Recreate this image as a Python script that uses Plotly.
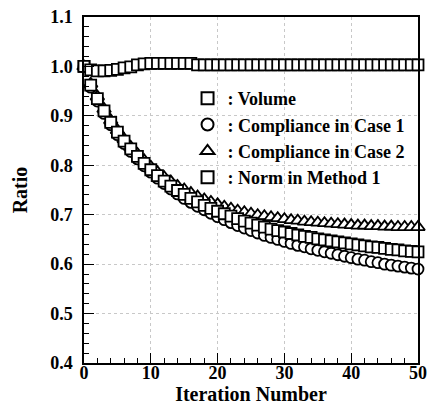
import plotly.graph_objects as go

iterations = list(range(51))

volume = [1.000, 0.993, 0.991, 0.991, 0.992, 0.994, 0.997, 0.999, 1.003, 1.005,
          1.006, 1.006, 1.006, 1.006, 1.006, 1.006, 1.006, 1.003, 1.003, 1.003,
          1.003, 1.003, 1.003, 1.003, 1.003, 1.003, 1.003, 1.003, 1.003, 1.003,
          1.003, 1.003, 1.003, 1.003, 1.003, 1.003, 1.003, 1.003, 1.003, 1.003,
          1.003, 1.003, 1.003, 1.003, 1.003, 1.003, 1.003, 1.003, 1.003, 1.003,
          1.003]

compliance_case1 = [1.000, 0.958, 0.930, 0.905, 0.882, 0.862, 0.844, 0.828, 0.813, 0.799,
                    0.786, 0.774, 0.763, 0.752, 0.742, 0.733, 0.725, 0.717, 0.710, 0.703,
                    0.696, 0.690, 0.684, 0.678, 0.673, 0.668, 0.663, 0.658, 0.654, 0.650,
                    0.646, 0.642, 0.638, 0.635, 0.631, 0.628, 0.625, 0.622, 0.619, 0.616,
                    0.613, 0.610, 0.608, 0.605, 0.603, 0.600, 0.598, 0.596, 0.594, 0.592,
                    0.590]

compliance_case2 = [1.000, 0.965, 0.939, 0.914, 0.891, 0.871, 0.853, 0.837, 0.823, 0.810,
                    0.797, 0.786, 0.776, 0.767, 0.758, 0.751, 0.744, 0.737, 0.731, 0.726,
                    0.721, 0.716, 0.712, 0.708, 0.705, 0.702, 0.699, 0.697, 0.695, 0.693,
                    0.691, 0.689, 0.688, 0.686, 0.685, 0.684, 0.683, 0.682, 0.681, 0.680,
                    0.679, 0.678, 0.678, 0.677, 0.677, 0.676, 0.676, 0.675, 0.675, 0.675,
                    0.675]

norm_method1 = [1.000, 0.962, 0.935, 0.910, 0.887, 0.867, 0.849, 0.833, 0.818, 0.804,
                0.791, 0.779, 0.768, 0.758, 0.749, 0.741, 0.733, 0.726, 0.719, 0.713,
                0.707, 0.702, 0.697, 0.692, 0.687, 0.683, 0.679, 0.675, 0.671, 0.668,
                0.665, 0.662, 0.659, 0.656, 0.654, 0.651, 0.649, 0.647, 0.645, 0.643,
                0.641, 0.639, 0.637, 0.635, 0.634, 0.632, 0.630, 0.629, 0.627, 0.626,
                0.625]

x_ticks = [0, 10, 20, 30, 40, 50]
y_ticks = [0.4, 0.5, 0.6, 0.7, 0.8, 0.9, 1.0, 1.1]

FONT = "Liberation Serif"

def mk(symbol, size=11):
    return dict(symbol=symbol, size=size, color="white",
                line=dict(color="black", width=1.8))

fig = go.Figure()
# draw order: triangles at back, then circles, then squares
fig.add_trace(go.Scatter(x=iterations, y=compliance_case2, mode="markers",
                         name=": Compliance in Case 2", marker=mk("triangle-up", 12),
                         cliponaxis=False, legendrank=3))
fig.add_trace(go.Scatter(x=iterations, y=compliance_case1, mode="markers",
                         name=": Compliance in Case 1", marker=mk("circle", 11),
                         cliponaxis=False, legendrank=2))
fig.add_trace(go.Scatter(x=iterations, y=norm_method1, mode="markers",
                         name=": Norm in Method 1", marker=mk("square", 11),
                         cliponaxis=False, legendrank=4))
fig.add_trace(go.Scatter(x=iterations, y=volume, mode="markers",
                         name=": Volume", marker=mk("square", 11),
                         cliponaxis=False, legendrank=1))

axis_common = dict(
    showline=True, linecolor="black", linewidth=1.5, mirror=True,
    ticks="inside", ticklen=10, tickwidth=1.3, tickcolor="black",
    showgrid=True, gridcolor="#c8c8c8", griddash="dot", gridwidth=1,
    zeroline=False, automargin=False,
    tickfont=dict(family=FONT, size=18, color="black", weight="bold"),
)

fig.update_xaxes(range=[0, 50], tickvals=x_ticks, ticktext=[str(v) for v in x_ticks],
                 ticklabelstandoff=-7,
                 minor=dict(ticks="inside", ticklen=5, dtick=2, tick0=0,
                            tickcolor="black", showgrid=False),
                 title=dict(text="Iteration Number", standoff=4,
                            font=dict(family=FONT, size=20, color="black", weight="bold")),
                 **axis_common)
fig.update_yaxes(range=[0.4, 1.1], tickvals=y_ticks, ticktext=[f"{v:.1f}" for v in y_ticks],
                 ticklabelstandoff=6,
                 minor=dict(ticks="inside", ticklen=5, dtick=0.02, tick0=0.4,
                            tickcolor="black", showgrid=False),
                 title=dict(text="Ratio", standoff=17,
                            font=dict(family=FONT, size=20, color="black", weight="bold")),
                 **axis_common)

fig.update_layout(
    width=443, height=407,
    margin=dict(l=84, r=25, t=17, b=44),
    paper_bgcolor="white", plot_bgcolor="white",
    showlegend=True,
    legend=dict(x=0.31, y=0.818, xanchor="left", yanchor="top",
                bgcolor="rgba(255,255,255,0)", borderwidth=0,
                font=dict(family=FONT, size=18, color="black", weight="bold"),
                tracegroupgap=0, itemsizing="constant"),
)

# remove the browser's default 8px body margin so the figure fills the window exactly
fig.write_html("out.html", config={"displayModeBar": False},
               post_script="document.body.style.margin='0px';")
